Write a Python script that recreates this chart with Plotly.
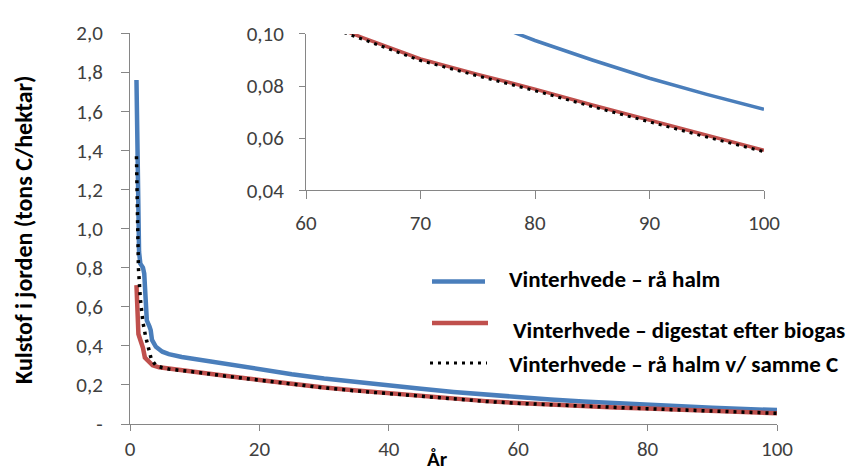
import plotly.graph_objects as go

# ---- data ----
blue_years = [1.0, 1.1, 1.25, 1.4, 1.6, 2.0, 2.2, 2.4, 2.6, 3.0, 3.2, 3.4, 4, 5, 6, 8, 10,
              15, 20, 25, 30, 35, 40, 45, 50, 55, 60, 65, 70, 75, 80, 85, 90, 95, 100]
blue_vals = [1.76, 1.50, 1.00, 0.88, 0.82, 0.80, 0.77, 0.66, 0.53, 0.50, 0.48, 0.43, 0.395,
             0.370, 0.357, 0.343, 0.332, 0.305, 0.278, 0.255, 0.233, 0.214, 0.198, 0.180,
             0.164, 0.150, 0.137, 0.125, 0.115, 0.106, 0.0975, 0.0900, 0.0830, 0.0768, 0.0711]

red_years = [1.0, 1.15, 1.3, 1.6, 2.0, 2.3, 2.8, 3.5, 4.5, 6, 8, 10,
             15, 20, 25, 30, 35, 40, 45, 50, 55, 60, 65, 70, 75, 80, 85, 90, 95, 100]
red_vals = [0.71, 0.55, 0.46, 0.43, 0.39, 0.34, 0.32, 0.30, 0.29, 0.283, 0.276, 0.268,
            0.246, 0.225, 0.205, 0.187, 0.171, 0.157, 0.142, 0.129, 0.117, 0.107, 0.0985,
            0.0904, 0.0845, 0.0788, 0.0727, 0.0668, 0.0610, 0.0553]

black_years = [1.0, 1.15, 1.3, 1.6, 2.0, 2.4, 2.8, 3.3, 4, 5, 6, 8, 10,
               15, 20, 25, 30, 35, 40, 45, 50, 55, 60, 65, 70, 75, 80, 85, 90, 95, 100]
black_vals = [1.37, 1.00, 0.80, 0.64, 0.52, 0.45, 0.39, 0.33, 0.30, 0.288, 0.281, 0.274,
              0.266, 0.244, 0.223, 0.203, 0.185, 0.169, 0.155, 0.140, 0.127, 0.1155,
              0.1057, 0.0979, 0.0898, 0.0839, 0.0782, 0.0721, 0.0662, 0.0604, 0.0548]

series_names = ["Vinterhvede – rå halm",
                "Vinterhvede – digestat efter biogas",
                "Vinterhvede – rå halm v/ samme C"]

main_x_ticks = [0, 20, 40, 60, 80, 100]
main_y_ticks = [0, 0.2, 0.4, 0.6, 0.8, 1.0, 1.2, 1.4, 1.6, 1.8, 2.0]
main_y_labels = ["-", "0,2", "0,4", "0,6", "0,8", "1,0", "1,2", "1,4", "1,6", "1,8", "2,0"]
inset_x_ticks = [60, 70, 80, 90, 100]
inset_y_ticks = [0.04, 0.06, 0.08, 0.10]
inset_y_labels = ["0,04", "0,06", "0,08", "0,10"]

y_title = "Kulstof i jorden (tons C/hektar)"
x_title = "År"

# ---- styling ----
# page body has an 8px margin, so the figure is shifted by 8px in the screenshot
OFF = 8
W, H = 863 - OFF, 474 - OFF
L0, R0, T0, B0 = 130, 777, 23, 426          # plot area in screenshot pixels
L, T = L0 - OFF, T0 - OFF
R, B = 863 - R0, 474 - B0
PW, PH = R0 - L0, B0 - T0
BLUE, RED, BLACK = "#4A7EBB", "#C0504D", "#000000"
AXC, TXC = "#868686", "#404040"
FONT = "Carlito, 'Liberation Sans Narrow', Lato, sans-serif"
TICK = 21
LEGF = 23


def px(xp):
    return (xp - L0) / PW


def py(yp):
    return (B0 - yp) / PH


DOT = "3px,5px"

fig = go.Figure()
for xs, ys, col, dash, w in [(blue_years, blue_vals, BLUE, "solid", 4.5),
                             (red_years, red_vals, RED, "solid", 4.5),
                             (black_years, black_vals, BLACK, DOT, 3.5)]:
    fig.add_trace(go.Scatter(x=xs, y=ys, mode="lines", line=dict(color=col, width=w, dash=dash),
                             xaxis="x", yaxis="y", showlegend=False, hoverinfo="skip"))
for xs, ys, col, dash, w in [(blue_years, blue_vals, BLUE, "solid", 3.5),
                             (red_years, red_vals, RED, "solid", 3.5),
                             (black_years, black_vals, BLACK, DOT, 3)]:
    fig.add_trace(go.Scatter(x=xs, y=ys, mode="lines", line=dict(color=col, width=w, dash=dash),
                             xaxis="x2", yaxis="y2", showlegend=False, hoverinfo="skip"))

axis_common = dict(showline=True, linecolor=AXC, linewidth=1, ticks="outside", tickcolor=AXC,
                   tickwidth=1, showgrid=False, zeroline=False,
                   tickfont=dict(family=FONT, size=TICK, color=TXC))

fig.update_layout(
    width=W, height=H, margin=dict(l=L, r=R, t=T, b=B),
    paper_bgcolor="white", plot_bgcolor="rgba(0,0,0,0)",
    xaxis=dict(domain=[0, 1], range=[0, 100], tickvals=main_x_ticks, ticklen=6, anchor="y",
               **axis_common),
    yaxis=dict(domain=[0, 1], range=[0, 2.0], tickvals=main_y_ticks, ticktext=main_y_labels,
               ticklen=8, ticklabelstandoff=14, anchor="x", **axis_common),
    xaxis2=dict(domain=[px(306), px(764)], range=[60, 100], tickvals=inset_x_ticks, ticklen=8,
                ticklabelstandoff=6, anchor="y2", **axis_common),
    yaxis2=dict(domain=[py(185), py(24)], range=[0.04, 0.10], tickvals=inset_y_ticks,
                ticktext=inset_y_labels, ticklen=6, ticklabelstandoff=11, anchor="x2",
                **axis_common),
    showlegend=False,
)

# legend drawn manually (positions in screenshot pixels)
leg = [(432, 485, 279, BLUE, "solid", 4.5, 507, 277),
       (432, 488, 322, RED, "solid", 4.5, 511, 329),
       (430, 487, 363, BLACK, "dot", 3, 507, 364)]
for i, (x0, x1, yl, col, dash, w, tx, ty) in enumerate(leg):
    fig.add_shape(type="line", xref="paper", yref="paper", x0=px(x0), x1=px(x1), y0=py(yl),
                  y1=py(yl), line=dict(color=col, width=w, dash=DOT if dash == "dot" else dash))
    fig.add_annotation(xref="paper", yref="paper", x=px(tx), y=py(ty), xanchor="left",
                       yanchor="middle", showarrow=False, text="<b>%s</b>" % series_names[i],
                       font=dict(family=FONT, size=LEGF, color="#000000"))

fig.add_annotation(xref="paper", yref="paper", x=px(24), y=py(226), textangle=-90,
                   showarrow=False, xanchor="center", yanchor="middle",
                   text="<b>%s</b>" % y_title, font=dict(family=FONT, size=24, color="#000000"))
fig.add_annotation(xref="paper", yref="paper", x=px(437), y=py(462), showarrow=False,
                   xanchor="center", yanchor="middle", text="<b>%s</b>" % x_title,
                   font=dict(family=FONT, size=21, color="#000000"))

fig.write_html("out.html")
